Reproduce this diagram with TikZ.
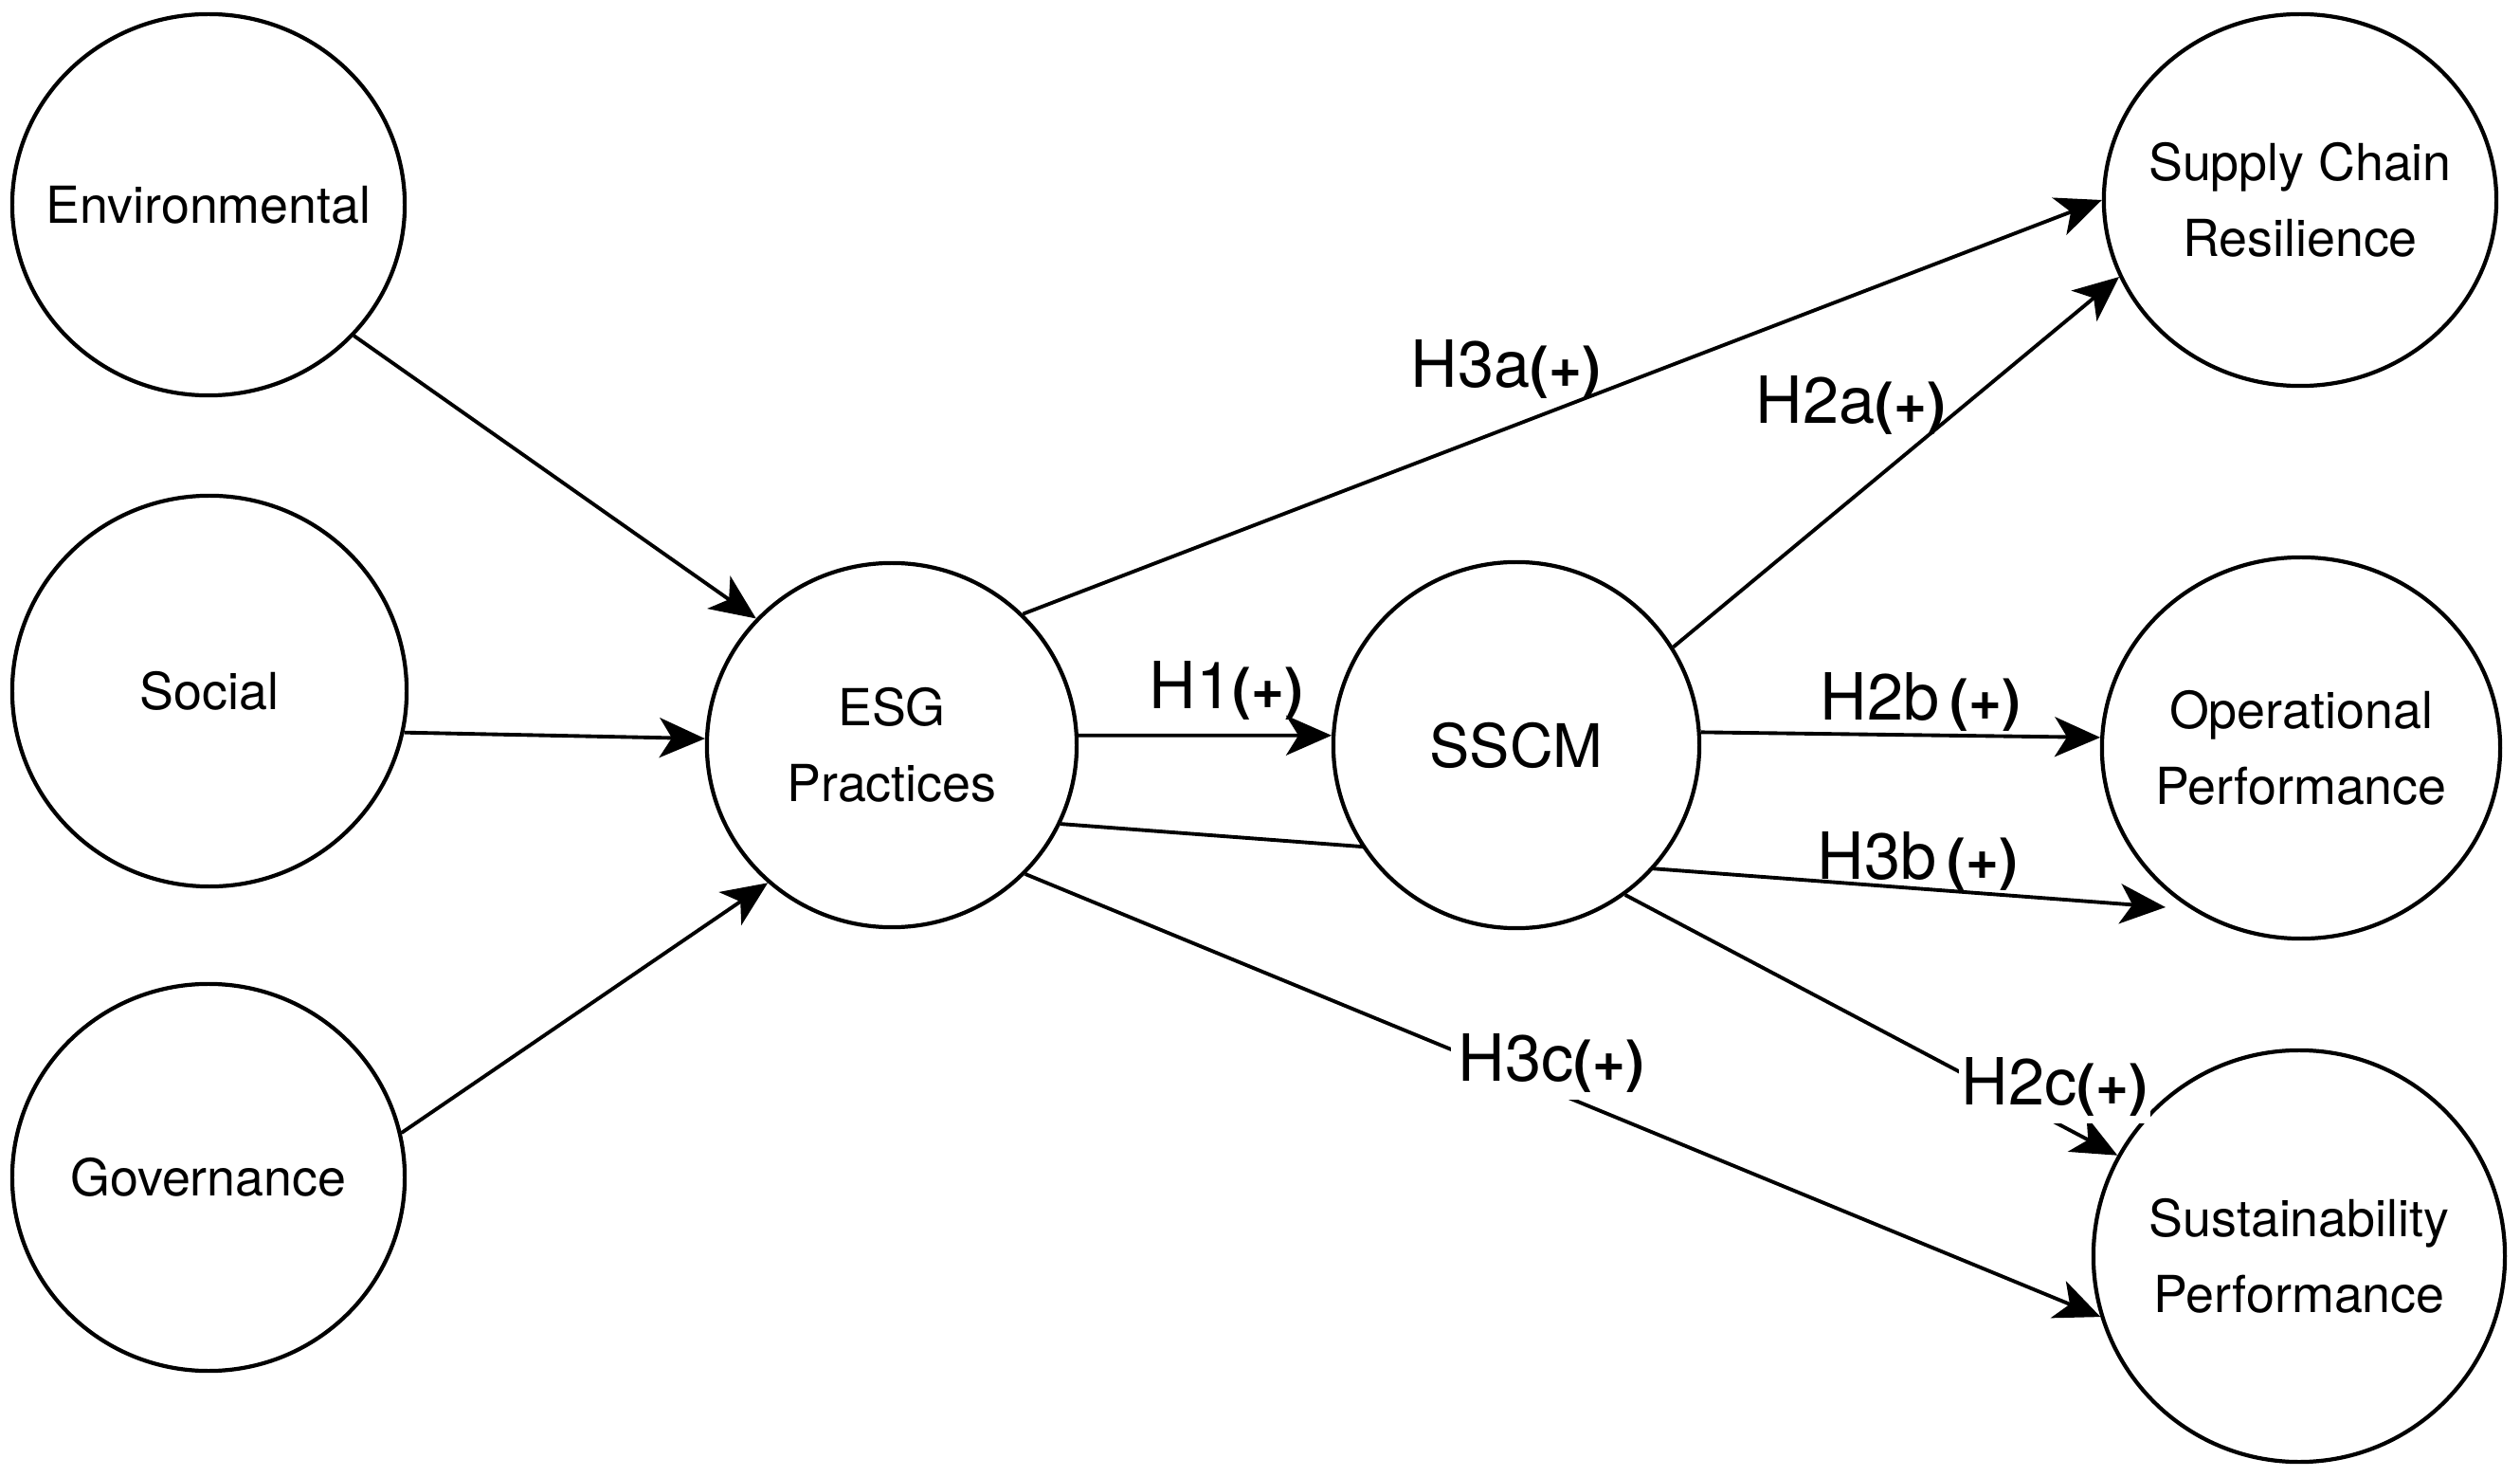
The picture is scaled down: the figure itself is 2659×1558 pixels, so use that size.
\documentclass[tikz,border=0pt]{standalone}
\usepackage{fontspec}
\setmainfont{TeX Gyre Heros}
\usetikzlibrary{shapes.geometric,arrows.meta}
\pgfdeclarelayer{bg}
\pgfsetlayers{bg,main}
\newcommand\hplus{{\fontsize{17}{17}\selectfont\bfseries(+)}}
\newcommand\zb[1]{\makebox[0pt]{#1}}
\begin{document}
\begin{tikzpicture}[x=0.01cm,y=-0.01cm,
  latent/.style={ellipse,draw,line width=1.2pt,fill=white,inner sep=0pt,align=center,
    font=\fontsize{15.3}{22.8}\selectfont},
  pth/.style={line width=1.1pt,-{Stealth[length=4.8mm,width=4.2mm,inset=1.3mm]}},
  hyp/.style={inner sep=0pt,anchor=base west,font=\fontsize{19.5}{19.5}\selectfont},
  hypw/.style={inner sep=0.08cm,anchor=base west,fill=white,font=\fontsize{19.5}{19.5}\selectfont},
  ]
\useasboundingbox (0,0) rectangle (2659,1558);
% nodes
\node[latent,minimum width=4.14cm,minimum height=4.02cm] (env) at (220,216) {\zb{Environmental}};
\node[latent,minimum width=4.16cm,minimum height=4.12cm] (soc) at (221,729) {\zb{Social}};
\node[latent,minimum width=4.14cm,minimum height=4.08cm] (gov) at (220,1242) {\zb{Governance}};
\node[latent,minimum width=3.90cm,minimum height=3.84cm] (esg) at (941,786) {\zb{ESG}\\\zb{Practices}};
\node[latent,minimum width=3.86cm,minimum height=3.86cm] (sscm) at (1600,786) {\zb{\fontsize{18}{20}\selectfont SSCM}};
\node[latent,minimum width=4.14cm,minimum height=3.92cm] (scr) at (2427,211) {\zb{Supply Chain}\\\zb{Resilience}};
\node[latent,minimum width=4.20cm,minimum height=4.02cm] (op) at (2428,789) {\zb{Operational}\\\zb{Performance}};
\node[latent,minimum width=4.34cm,minimum height=4.34cm] (sp) at (2426,1325) {\zb{Sustainability}\\\zb{Performance}};
\coordinate (h3bend) at (2285,957);
% edges
\begin{pgfonlayer}{bg}
\draw[pth] (esg.-25) -- (h3bend);
\end{pgfonlayer}
\draw[pth] (env.-42) -- (esg.137);
\draw[pth] (soc.-12) -- (esg.178);
\draw[pth] (gov.13) -- (esg.-132);
\draw[pth] (esg.45) -- (scr.180);
\draw[pth] (esg.3) -- (sscm.177);
\draw[pth] (sscm.32) -- (scr.-157);
\draw[pth] (sscm.4) -- (op.177);
\draw[pth] (sscm.-54) -- (sp.151);
\draw[pth] (esg.-44) -- (sp.-163);
% labels
\node[hyp] (l3a) at (1488,409) {H3a\hplus};
\node[hyp] (l2a) at (1852,447) {H2a\hplus};
\node[hyp] (l1) at (1212,748) {H1\hplus};
\node[hyp] (l2b) at (1920,760) {H2b\,\hplus};
\node[hyp] (l3b) at (1917,927) {H3b\,\hplus};
\node[hypw] (l3c) at (1530,1140) {H3c\hplus};
\node[hypw,inner xsep=0.03cm] (l2c) at (2066,1165) {H2c\hplus};
\end{tikzpicture}
\end{document}
